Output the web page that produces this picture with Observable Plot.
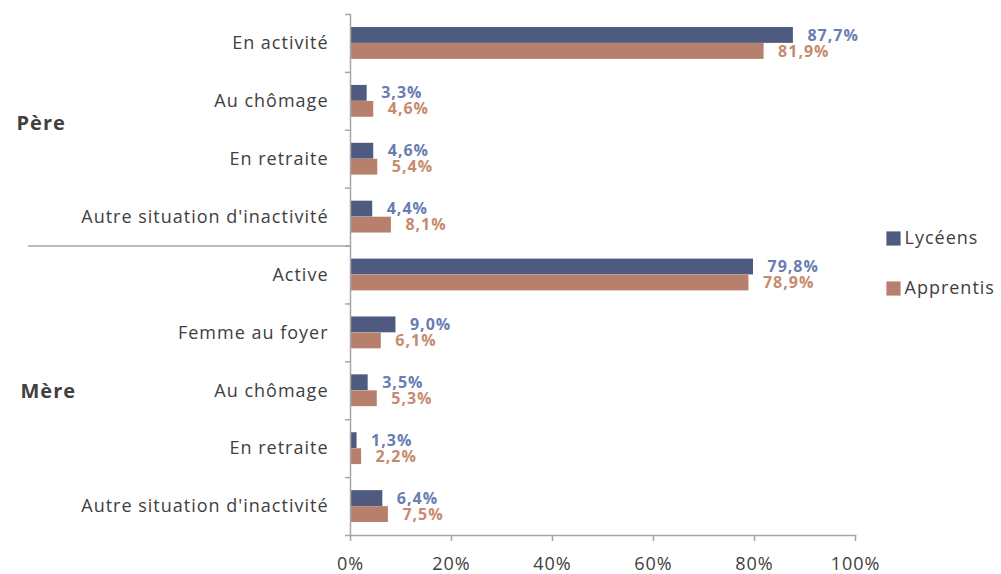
<!DOCTYPE html>
<html><head><meta charset="utf-8">
<script src="https://cdn.jsdelivr.net/npm/d3@7"></script>
<script src="https://cdn.jsdelivr.net/npm/@observablehq/plot@0.6"></script>
<style>body{margin:0;background:#fff} #chart svg text{letter-spacing:1px}</style>
</head><body><div id="chart"></div>
<script>
const groups = ["Père","Père","Père","Père","Mère","Mère","Mère","Mère","Mère"];
const categories = ["En activité","Au chômage","En retraite","Autre situation d'inactivité","Active","Femme au foyer","Au chômage","En retraite","Autre situation d'inactivité"];
const series = ["Lycéens","Apprentis"];
const lyceens = [87.7,3.3,4.6,4.4,79.8,9.0,3.5,1.3,6.4];
const apprentis = [81.9,4.6,5.4,8.1,78.9,6.1,5.3,2.2,7.5];
const xTicks = [0,20,40,60,80,100];
const groupLabels = ["Père","Mère"];

const keys = categories.map((c,i) => groups[i] + "|" + c);
const data = [];
keys.forEach((k,i) => {
  data.push({key:k, series:series[0], value:lyceens[i]});
  data.push({key:k, series:series[1], value:apprentis[i]});
});
const fmt = v => d3.format(".1f")(v).replace(".", ",") + "%";
const W = 1001, H = 574, mT = 14, mB = 39, mL = 350, mR = 146;
const step = (H - mT - mB) / keys.length;
const half = step / 2;
const blank = () => "";
const gray = "#a6a6a6";
const textCol = "#404040";

const chart = Plot.plot({
  width: W, height: H,
  marginLeft: mL, marginRight: mR, marginTop: mT, marginBottom: mB,
  style: {fontFamily: "'Open Sans', sans-serif", fontSize: "18px", color: textCol, background: "#fff"},
  x: {domain: [0,100], ticks: xTicks, tickFormat: d => d + "%", label: null},
  y: {domain: keys, paddingInner: 0.45, paddingOuter: 0.225, round: false, label: null},
  color: {domain: series, range: ["#4e5a7f", "#b7806c"]},
  marks: [
    Plot.barX(data.filter(d => d.series === series[0]), {y: "key", x: "value", fill: "series", insetBottom: 16}),
    Plot.barX(data.filter(d => d.series === series[1]), {y: "key", x: "value", fill: "series", insetTop: 16}),
    Plot.text(data.filter(d => d.series === series[0]), {y: "key", x: "value", text: d => fmt(d.value), dx: 14, dy: -8, textAnchor: "start", fill: "#6a7cb4", fontWeight: "bold", fontSize: 16}),
    Plot.text(data.filter(d => d.series === series[1]), {y: "key", x: "value", text: d => fmt(d.value), dx: 14, dy: 8, textAnchor: "start", fill: "#c68b6e", fontWeight: "bold", fontSize: 16}),
    Plot.frame({anchor: "left", stroke: gray, strokeWidth: 1.5}),
    Plot.frame({anchor: "bottom", stroke: gray, strokeWidth: 1.5}),
    Plot.axisX({ticks: xTicks, tickFormat: d => d + "%", tickSize: 6, tickPadding: 16, stroke: gray, strokeWidth: 1.5, fill: textCol, fontSize: 18, label: null}),
    Plot.axisY({tickSize: 0, tickPadding: 22, tickFormat: k => k.split("|")[1], fill: textCol, fontSize: 18, label: null}),
    Plot.axisY({tickSize: 5, dy: -half, tickFormat: blank, stroke: gray, strokeWidth: 1.5, label: null}),
    Plot.axisY([keys[keys.length-1]], {tickSize: 5, dy: half, tickFormat: blank, stroke: gray, strokeWidth: 1.5, label: null}),
    Plot.axisY([keys[4]], {tickSize: 322, dy: -half, tickFormat: blank, stroke: gray, strokeWidth: 1.5, label: null}),
    Plot.text([groupLabels[0]], {y: () => keys[1], text: d => d, frameAnchor: "left", dx: -334, dy: half - 7, textAnchor: "start", fontWeight: "bold", fontSize: 20, fill: textCol}),
    Plot.text([groupLabels[1]], {y: () => keys[6], text: d => d, frameAnchor: "left", dx: -330, dy: 1, textAnchor: "start", fontWeight: "bold", fontSize: 20, fill: textCol}),
    Plot.dot([series[0]], {frameAnchor: "right", dx: 38, dy: -36.5, symbol: "square", r: 8, fill: d => d}),
    Plot.dot([series[1]], {frameAnchor: "right", dx: 38, dy: 13.5, symbol: "square", r: 8, fill: d => d}),
    Plot.text([series[0]], {frameAnchor: "right", dx: 49, dy: -36.5, text: d => d, textAnchor: "start", fontSize: 18, fill: textCol}),
    Plot.text([series[1]], {frameAnchor: "right", dx: 49, dy: 13.5, text: d => d, textAnchor: "start", fontSize: 18, fill: textCol})
  ]
});
document.getElementById("chart").append(chart);
</script>
</body></html>
